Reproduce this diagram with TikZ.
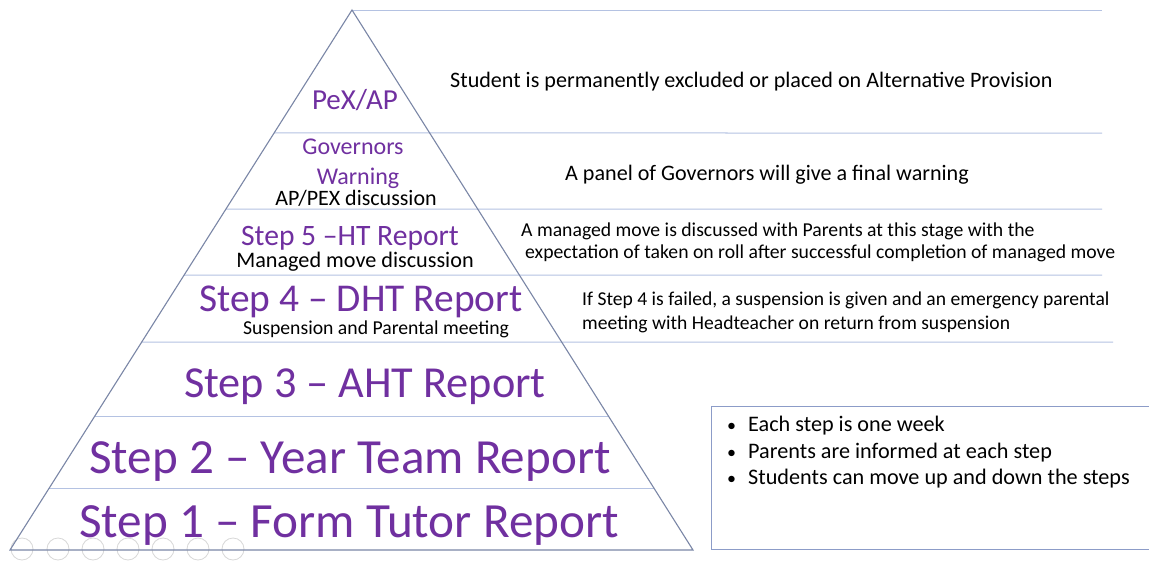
\documentclass[tikz,border=0pt]{standalone}
\usepackage{fontspec}
\setmainfont{Carlito}
\usetikzlibrary{calc}
\definecolor{purp}{HTML}{7030A0}
\definecolor{edge}{HTML}{7A86A6}
\definecolor{hline}{HTML}{B4C2E2}
\definecolor{boxc}{HTML}{8C9CC8}
\definecolor{tool}{HTML}{D8D8D8}
\tikzset{
  lvl/.style={inner sep=0pt, anchor=base, text=purp},
  sub/.style={inner sep=0pt, anchor=base, text=black},
  desc/.style={inner sep=0pt, anchor=base west, text=black},
  hl/.style={draw=hline, line width=1pt},
  pyr/.style={draw=edge, line width=1.1pt, line join=miter},
}
\begin{document}
\begin{tikzpicture}[x=1pt,y=-1pt]
\useasboundingbox (0,0) rectangle (1149,565);
\fill[white] (0,0) rectangle (1149,565);
% toolbar circles
\foreach \i/\cx in {1/22,2/58,3/93,4/128,5/163,6/198,7/233}{
  \draw[tool, line width=0.8pt] (\cx,549) circle (11);
}
\coordinate (A) at (352,10);
\coordinate (BL) at (10,550);
\coordinate (BR) at (693,550);
% horizontal lines
\coordinate (e0) at (1102,10);
\draw[hl] (A) -- (e0);
\foreach \yy/\xe in {133/1102,209/1102,275/1102,342/1113}{
  \coordinate (l\yy) at ($(A)!{(\yy-10)/540}!(BL)$);
  \coordinate (r\yy) at (\xe,\yy);
  \draw[hl] (l\yy) -- (r\yy);
}
\foreach \yy in {416,489}{
  \coordinate (l\yy) at ($(A)!{(\yy-10)/540}!(BL)$);
  \coordinate (r\yy) at ($(A)!{(\yy-10)/540}!(BR)$);
  \draw[hl] (l\yy) -- (r\yy);
}
% pyramid
\draw[pyr] (A) -- (BL) -- (BR) -- cycle;
% levels
\node[lvl, font=\fontsize{29}{33}\selectfont] (pex) at (355,109) {PeX/AP};
\node[lvl, font=\fontsize{24}{28}\selectfont] (gov1) at (353,154) {Governors};
\node[lvl, font=\fontsize{24}{28}\selectfont] (gov2) at (358,184) {Warning};
\node[sub, font=\fontsize{22}{26}\selectfont] (gov3) at (356,205) {AP/PEX discussion};
\node[lvl, font=\fontsize{29.6}{34}\selectfont] (s5) at (350,245) {Step 5 –HT Report};
\node[sub, font=\fontsize{22.2}{26}\selectfont] (s5b) at (355,267) {Managed move discussion};
\node[lvl, font=\fontsize{39.4}{45}\selectfont] (s4) at (361,311) {Step 4 – DHT Report};
\node[sub, font=\fontsize{19.7}{23}\selectfont] (s4b) at (376,334) {Suspension and Parental meeting};
\node[lvl, font=\fontsize{44.3}{50}\selectfont] (s3) at (365,397) {Step 3 – AHT Report};
\node[lvl, font=\fontsize{49.1}{56}\selectfont] (s2) at (350,473) {Step 2 – Year Team Report};
\node[lvl, font=\fontsize{49.2}{56}\selectfont] (s1) at (349,537) {Step 1 – Form Tutor Report};
% descriptions
\node[desc, font=\fontsize{22.1}{26}\selectfont] (d1) at (450,87) {Student is permanently excluded or placed on Alternative Provision};
\node[desc, font=\fontsize{22.1}{26}\selectfont] (d2) at (565,180) {A panel of Governors will give a final warning};
\node[desc, font=\fontsize{19.7}{23}\selectfont] (d3) at (521,236) {A managed move is discussed with Parents at this stage with the};
\node[desc, font=\fontsize{19.7}{23}\selectfont] (d3b) at (525,258) {expectation of taken on roll after successful completion of managed move};
\node[desc, font=\fontsize{19.6}{23}\selectfont] (d4) at (582,305) {If Step 4 is failed, a suspension is given and an emergency parental};
\node[desc, font=\fontsize{19.6}{23}\selectfont] (d4b) at (582,329) {meeting with Headteacher on return from suspension};
% info box
\draw[draw=boxc, line width=1pt] (1149,406) -- (711,406) -- (711,549) -- (1149,549);
\foreach \yy/\t in {431/Each step is one week,458/Parents are informed at each step,484/Students can move up and down the steps}{
  \node[desc, font=\fontsize{18}{21}\selectfont] at (727,\yy) {•};
  \node[desc, font=\fontsize{22.2}{26}\selectfont] at (748,\yy) {\t};
}
\end{tikzpicture}
\end{document}
